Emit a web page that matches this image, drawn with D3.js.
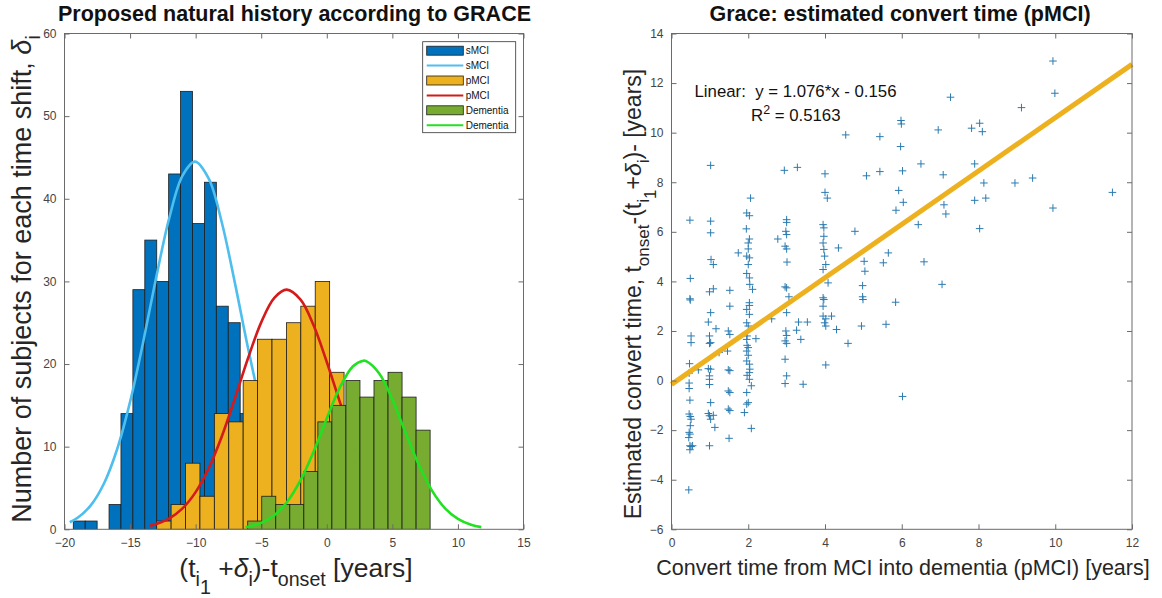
<!DOCTYPE html>
<html>
<head>
<meta charset="utf-8">
<script src="https://cdn.jsdelivr.net/npm/d3@7"></script>
<style>
  body { margin: 0; background: #fff; }
  svg { display: block; font-family: "Liberation Sans", Arial, sans-serif; }
</style>
</head>
<body>
<svg id="chart" width="1162" height="598"></svg>
<script>
// histogram counts per bin (bin start + width in years)
var sMCICounts = [1, 1, 0, 3, 14, 29, 35, 30, 43, 53, 37, 42, 27, 25, 14];
var sMCIStart = -19.33, sMCIWidth = 0.909;
var pMCICounts = [1, 3, 8, 4, 14, 13, 18, 23, 23, 25, 27, 30, 19];
var pMCIStart = -12.97, pMCIWidth = 1.099;
var dementiaCounts = [1, 4, 3, 3, 7, 13, 15, 18, 16, 18, 19, 16, 12];
var dementiaStart = -6.03, dementiaWidth = 1.07;

// fitted normal curves
var sMCIFitX = [-19.6, -19, -18, -17, -16, -15, -14, -13, -12, -11, -10.05, -9, -8, -7, -6, -5, -4, -3, -2, -1, -0.5];
var sMCIFitY = [0.86, 1.39, 2.89, 5.51, 9.63, 15.42, 22.66, 30.55, 37.75, 42.8, 44.5, 42.43, 37.1, 29.76, 21.89, 14.77, 9.14, 5.18, 2.7, 1.29, 0.86];
var pMCIFitX = [-13.5, -13, -12, -11, -10, -9, -8, -7, -6, -5, -4, -3.05, -2, -1, 0, 1, 2, 3, 4, 5, 6, 7, 7.4];
var pMCIFitY = [0.43, 0.64, 1.32, 2.53, 4.5, 7.4, 11.27, 15.88, 20.73, 25.04, 28.01, 29.0, 27.79, 24.66, 20.25, 15.4, 10.84, 7.07, 4.26, 2.38, 1.23, 0.59, 0.43];
var dementiaFitX = [-6.2, -6, -5, -4, -3, -2, -1, 0, 1, 2, 2.79, 3, 4, 5, 6, 7, 8, 9, 10, 11, 11.78];
var dementiaFitY = [0.26, 0.32, 0.78, 1.71, 3.37, 5.94, 9.42, 13.42, 17.17, 19.73, 20.4, 20.35, 18.86, 15.69, 11.72, 7.87, 4.74, 2.57, 1.25, 0.54, 0.26];

var histXTicks = [-20, -15, -10, -5, 0, 5, 10, 15];
var histYTicks = [0, 10, 20, 30, 40, 50, 60];

// scatter: convert time (years) vs estimated convert time (years)
var convertTime = [
  0.48, 0.49, 0.48, 0.49, 0.51, 0.51, 0.47, 0.46, 0.46, 0.46, 0.48, 0.46, 0.49, 0.51, 0.49, 0.46, 0.48, 0.45, 0.48, 0.51, 0.55, 0.48, 0.45, 0.70,
  1.02, 1.02, 1.02, 1.03, 1.09, 0.99, 1.09, 1.02, 0.96, 0.99, 1.02, 0.99, 0.96, 1.02, 0.99, 0.99, 0.99, 1.02, 0.96, 0.99, 1.02, 1.09, 1.13, 0.99, 1.16, 1.24,
  1.52, 1.52, 1.48, 1.52, 1.46, 1.48, 1.52, 1.48, 1.52, 1.48, 1.52, 1.50,
  1.96, 2.03, 1.95, 2.03, 2.0, 2.0, 1.96, 2.03, 2.0, 1.96, 2.03, 2.04, 2.11, 2.03, 2.03, 1.96, 2.03, 1.96, 2.0, 1.97, 1.96, 1.97, 2.0, 1.96, 2.0, 1.96, 2.03, 2.04, 2.03, 1.97, 2.03, 2.08, 1.96, 2.0, 1.96, 1.90, 2.08, 2.06, 2.20, 1.74, 2.61,
  3.0, 3.0, 2.98, 3.0, 2.77, 2.96, 3.0, 3.01, 2.96, 3.0, 3.06, 3.0, 2.98, 3.0, 2.96, 3.0, 2.96, 3.0, 2.96, 3.43, 3.26, 3.31, 3.54, 3.37, 2.94, 3.28,
  3.95, 3.97, 3.97, 3.95, 3.97, 3.99, 3.95, 4.02, 4.08, 3.95, 3.97, 3.95, 3.95, 4.02, 3.99, 4.02, 4.17, 4.02, 4.35, 4.30, 4.60, 4.0, 4.0, 4.06,
  4.54, 5.43, 5.43, 5.08, 4.78, 5.02, 5.04, 4.98, 4.98, 4.99, 4.95, 5.52, 5.65, 5.84, 5.59, 6.02, 6.58, 7.05,
  5.98, 5.99, 5.97, 7.27, 6.95, 7.82, 8.03, 8.10, 9.12, 9.94, 9.99, 6.02, 6.50, 7.08, 7.90, 8.14, 8.95, 9.41, 11.49,
  5.92, 6.04, 5.85, 6.43, 7.10, 7.15, 7.90, 8.19, 8.03, 9.94
];
var estimatedTime = [
  6.47, 4.12, 3.3, 3.25, 1.8, 1.53, 0.68, 0.3, -0.1, -0.32, -0.79, -1.35, -1.45, -1.56, -1.82, -2.09, -2.16, -2.3, -2.63, -2.66, -2.63, -2.79, -4.41, 0.43,
  6.43, 5.96, 8.68, 4.88, 4.68, 3.58, 3.7, 2.74, 2.36, 1.8, 1.53, 1.5, 0.48, 0.46, 0.19, 0.05, -0.16, -0.89, -1.33, -1.42, -1.56, -1.4, -1.89, -2.63, 2.09, 1.13,
  3.64, 3.0, 2.0, 1.86, 1.19, 0.43, 0.4, -0.42, -0.48, -1.15, -1.21, -2.33,
  6.76, 6.65, 6.12, 5.71, 5.55, 5.31, 5.02, 4.95, 4.68, 4.32, 4.14, 3.88, 3.68, 3.14, 3.03, 2.87, 2.67, 2.33, 2.2, 1.8, 1.66, 1.42, 1.33, 1.19, 1.02, 0.79, 0.66, 0.46, 0.32, 0.21, 0.05, -0.21, -0.48, -0.89, -0.95, -1.29, -1.93, 7.36, 1.69, 5.15, 2.49,
  6.49, 6.38, 6.02, 5.89, 5.71, 5.42, 5.31, 4.78, 3.78, 3.74, 3.38, 2.74, 2.0, 1.82, 1.6, 1.5, 0.86, 0.19, -0.12, -0.15, 2.03, 2.36, 2.36, 1.66, 8.48, 8.6,
  6.29, 6.16, 5.82, 5.55, 5.29, 5.02, 4.48, 4.68, 3.94, 3.34, 3.27, 3.0, 2.6, 2.49, 2.33, 2.2, 2.6, 0.63, 5.35, 2.06, 1.5, 8.34, 7.59, 7.36,
  9.91, 9.84, 8.43, 8.26, 6.02, 4.81, 4.41, 3.83, 3.38, 3.27, 2.2, 4.75, 5.15, 3.16, 2.27, -0.64, 4.79, 3.88,
  10.49, 10.35, 9.44, 11.43, 10.11, 10.18, 10.38, 10.04, 11.01, 12.89, 11.59, 8.46, 8.74, 8.3, 8.74, 7.97, 7.97, 8.17, 7.59,
  7.67, 7.19, 6.87, 6.29, 7.09, 6.72, 7.27, 7.36, 6.13, 6.96
];
var fitLineX = [0, 12];
var fitLineY = [-0.156, 12.756];
var scatterXTicks = [0, 2, 4, 6, 8, 10, 12];
var scatterYTicks = [-6, -4, -2, 0, 2, 4, 6, 8, 10, 12, 14];

var svg = d3.select("#chart");
var axisColor = "#6b6b6b", labelColor = "#444";

function bins(counts, start, width){
  return counts.map(function(c, i){ return {x0: start + i*width, x1: start + (i+1)*width, n: c}; });
}
function pairs(xs, ys){ return xs.map(function(x, i){ return [x, ys[i]]; }); }

// rich text with sub/superscripts: level >0 is lowered, <0 raised
function richText(sel, parts, size){
  var cur = 0;
  parts.forEach(function(p){
    var lvl = p.l || 0;
    var fs = lvl === 0 ? size : size*0.74;
    var shift = function(l){ return l > 0 ? l*size*0.33 : l*size*0.42; };
    var dy = shift(lvl) - shift(cur);
    var t = sel.append("tspan").attr("dy", dy).attr("font-size", fs).text(p.t);
    if (p.i) t.attr("font-style", "italic");
    cur = lvl;
  });
}

function frame(g, x, y, xTicks, yTicks){
  var x0 = x.range()[0], x1 = x.range()[1], y0 = y.range()[0], y1 = y.range()[1];
  g.append("rect").attr("x", x0).attr("y", y1).attr("width", x1 - x0).attr("height", y0 - y1)
    .attr("fill", "none").attr("stroke", axisColor).attr("stroke-width", 1);
  var ax = [
    [d3.axisBottom(x).tickValues(xTicks).tickSizeInner(-5).tickSizeOuter(0).tickPadding(9), y0],
    [d3.axisTop(x).tickValues(xTicks).tickSizeInner(-5).tickSizeOuter(0).tickFormat(""), y1]
  ];
  ax.forEach(function(a){
    var s = g.append("g").attr("transform", "translate(0," + a[1] + ")").call(a[0]);
    s.select(".domain").remove();
    s.selectAll("line").attr("stroke", axisColor);
    s.selectAll("text").attr("fill", labelColor).attr("font-size", 12);
  });
  var ay = [
    [d3.axisLeft(y).tickValues(yTicks).tickSizeInner(-5).tickSizeOuter(0).tickPadding(8), x0],
    [d3.axisRight(y).tickValues(yTicks).tickSizeInner(-5).tickSizeOuter(0).tickFormat(""), x1]
  ];
  ay.forEach(function(a){
    var s = g.append("g").attr("transform", "translate(" + a[1] + ",0)").call(a[0]);
    s.select(".domain").remove();
    s.selectAll("line").attr("stroke", axisColor);
    s.selectAll("text").attr("fill", labelColor).attr("font-size", 12);
  });
}

// ---------- left: histograms ----------
var hx = d3.scaleLinear().domain([-20, 15]).range([64.5, 523.5]);
var hy = d3.scaleLinear().domain([0, 60]).range([529.3, 33.5]);
var left = svg.append("g");
svg.append("clipPath").attr("id", "clipL").append("rect")
  .attr("x", 64.5).attr("y", 33.5).attr("width", 459).attr("height", 495.8);

var curve = d3.line().x(function(d){ return hx(d[0]); }).y(function(d){ return hy(d[1]); })
  .curve(d3.curveCatmullRom.alpha(0.5));

var layers = [
  {bins: bins(sMCICounts, sMCIStart, sMCIWidth), fill: "#0072BD", fit: pairs(sMCIFitX, sMCIFitY), line: "#4DBEEE"},
  {bins: bins(pMCICounts, pMCIStart, pMCIWidth), fill: "#EDB120", fit: pairs(pMCIFitX, pMCIFitY), line: "#D41A1A"},
  {bins: bins(dementiaCounts, dementiaStart, dementiaWidth), fill: "#77AC30", fit: pairs(dementiaFitX, dementiaFitY), line: "#22E022"}
];
var plotL = left.append("g").attr("clip-path", "url(#clipL)");
layers.forEach(function(L){
  plotL.append("g").selectAll("rect").data(L.bins.filter(function(b){ return b.n > 0; })).enter().append("rect")
    .attr("x", function(b){ return hx(b.x0); })
    .attr("width", function(b){ return hx(b.x1) - hx(b.x0); })
    .attr("y", function(b){ return hy(b.n); })
    .attr("height", function(b){ return hy(0) - hy(b.n); })
    .attr("fill", L.fill).attr("stroke", "#1d1d1d").attr("stroke-width", 0.8);
  plotL.append("path").datum(L.fit).attr("d", curve)
    .attr("fill", "none").attr("stroke", L.line).attr("stroke-width", 2.6);
});
frame(left, hx, hy, histXTicks, histYTicks);

// legend
var legendItems = [
  {name: "sMCI", kind: "bar", color: "#0072BD"},
  {name: "sMCI", kind: "line", color: "#4DBEEE"},
  {name: "pMCI", kind: "bar", color: "#EDB120"},
  {name: "pMCI", kind: "line", color: "#D41A1A"},
  {name: "Dementia", kind: "bar", color: "#77AC30"},
  {name: "Dementia", kind: "line", color: "#22E022"}
];
var lg = left.append("g");
lg.append("rect").attr("x", 422.7).attr("y", 41.7).attr("width", 93).attr("height", 91)
  .attr("fill", "#fff").attr("stroke", "#333").attr("stroke-width", 0.8);
legendItems.forEach(function(d, i){
  var cy = 50.7 + i*14.9;
  if (d.kind === "bar") {
    lg.append("rect").attr("x", 426.7).attr("y", cy - 4.5).attr("width", 36.6).attr("height", 9)
      .attr("fill", d.color).attr("stroke", "#1d1d1d").attr("stroke-width", 0.8);
  } else {
    lg.append("line").attr("x1", 426.7).attr("x2", 463.3).attr("y1", cy).attr("y2", cy)
      .attr("stroke", d.color).attr("stroke-width", 2);
  }
  lg.append("text").attr("x", 465.7).attr("y", cy + 3.6).attr("font-size", 10).attr("fill", "#111").text(d.name);
});

left.append("text").attr("x", 294.5).attr("y", 21).attr("text-anchor", "middle")
  .attr("font-size", 21.5).attr("font-weight", "bold").attr("fill", "#111")
  .text("Proposed natural history according to GRACE");
richText(left.append("text").attr("x", 296).attr("y", 577).attr("text-anchor", "middle").attr("fill", "#262626"),
  [{t: "(t"}, {t: "i", l: 1}, {t: "1", l: 2}, {t: " +"}, {t: "\u03B4", i: true}, {t: "i", l: 1}, {t: ")-t"}, {t: "onset", l: 1}, {t: " [years]"}], 26.5);
richText(left.append("text").attr("transform", "translate(31,279) rotate(-90)").attr("text-anchor", "middle").attr("fill", "#262626"),
  [{t: "Number of subjects for each time shift, "}, {t: "\u03B4", i: true}, {t: "i", l: 1}], 27);

// ---------- right: scatter ----------
var sx = d3.scaleLinear().domain([0, 12]).range([671.5, 1132]);
var sy = d3.scaleLinear().domain([-6, 14]).range([529.3, 33.5]);
var right = svg.append("g");
var pts = pairs(convertTime, estimatedTime);
right.append("g").selectAll("path").data(pts).enter().append("path")
  .attr("transform", function(d){ return "translate(" + sx(d[0]) + "," + sy(d[1]) + ")"; })
  .attr("d", "M-3.8,0H3.8M0,-3.8V3.8")
  .attr("stroke", "#2C7BB0").attr("stroke-width", 1).attr("fill", "none");
right.append("path").datum(pairs(fitLineX, fitLineY))
  .attr("d", d3.line().x(function(d){ return sx(d[0]); }).y(function(d){ return sy(d[1]); }))
  .attr("stroke", "#EDB120").attr("stroke-width", 5).attr("fill", "none");
frame(right, sx, sy, scatterXTicks, scatterYTicks);

right.append("text").attr("x", 694.5).attr("y", 96.5).attr("font-size", 16.8).attr("fill", "#111")
  .attr("xml:space", "preserve").text("Linear:  y = 1.076*x - 0.156");
richText(right.append("text").attr("x", 751).attr("y", 121).attr("fill", "#111"),
  [{t: "R"}, {t: "2", l: -1}, {t: " = 0.5163"}], 16.8);

right.append("text").attr("x", 900).attr("y", 21).attr("text-anchor", "middle")
  .attr("font-size", 21.5).attr("font-weight", "bold").attr("fill", "#111")
  .text("Grace: estimated convert time (pMCI)");
right.append("text").attr("x", 903).attr("y", 575).attr("text-anchor", "middle")
  .attr("font-size", 21.5).attr("fill", "#262626")
  .text("Convert time from MCI into dementia (pMCI) [years]");
richText(right.append("text").attr("transform", "translate(641,294) rotate(-90)").attr("text-anchor", "middle").attr("fill", "#262626"),
  [{t: "Estimated convert time, t"}, {t: "onset", l: 1}, {t: "-(t"}, {t: "i", l: 1}, {t: "1", l: 2}, {t: "+"}, {t: "\u03B4", i: true}, {t: "i", l: 1}, {t: ")- [years]"}], 23);
</script>
</body>
</html>
